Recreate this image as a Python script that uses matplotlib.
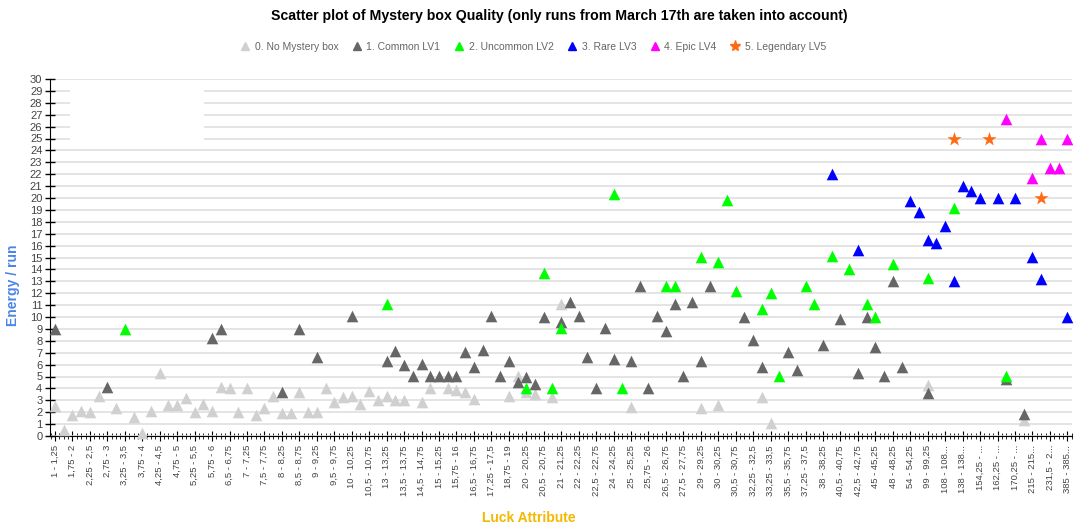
import matplotlib
matplotlib.use('Agg')
from matplotlib import pyplot as plt
from matplotlib.lines import Line2D
from matplotlib.patches import Rectangle
import numpy as np

plt.rcParams['font.family'] = ['Liberation Sans', 'DejaVu Sans']

title = 'Scatter plot of Mystery box Quality (only runs from March 17th are taken into account)'

# luck bins on the x axis, only every second one gets a label
n_bins = 117
tick_labels = [
    '1 - 1,25', '1,75 - 2', '2,25 - 2,5', '2,75 - 3', '3,25 - 3,5', '3,75 - 4',
    '4,25 - 4,5', '4,75 - 5', '5,25 - 5,5', '5,75 - 6', '6,5 - 6,75', '7 - 7,25',
    '7,5 - 7,75', '8 - 8,25', '8,5 - 8,75', '9 - 9,25', '9,5 - 9,75', '10 - 10,25',
    '10,5 - 10,75', '13 - 13,25', '13,5 - 13,75', '14,5 - 14,75', '15 - 15,25',
    '15,75 - 16', '16,5 - 16,75', '17,25 - 17,5', '18,75 - 19', '20 - 20,25',
    '20,5 - 20,75', '21 - 21,25', '22 - 22,25', '22,5 - 22,75', '24 - 24,25',
    '25 - 25,25', '25,75 - 26', '26,5 - 26,75', '27,5 - 27,75', '29 - 29,25',
    '30 - 30,25', '30,5 - 30,75', '32,25 - 32,5', '33,25 - 33,5', '35,5 - 35,75',
    '37,25 - 37,5', '38 - 38,25', '40,5 - 40,75', '42,5 - 42,75', '45 - 45,25',
    '48 - 48,25', '54 - 54,25', '99 - 99,25', '108 - 108...', '138 - 138...',
    '154,25 - ...', '162,25 - ...', '170,25 - ...', '215 - 215...', '231,5 - 2...',
    '385 - 385...',
]

# (bin number, energy per run) for every mystery box level
lv0_bins = [0, 1, 2, 3, 4, 5, 7, 9, 10, 11, 12, 13, 14, 15, 16, 17, 18, 19, 20, 21,
            22, 23, 24, 25, 26, 27, 28, 29, 30, 31, 32, 33, 34, 35, 36, 37, 38, 39,
            40, 42, 43, 45, 46, 47, 48, 52, 53, 54, 55, 57, 58, 66, 74, 76, 81, 82,
            100, 111]
lv0_vals = [2.5, 0.5, 1.76, 2.1, 2.04, 3.39, 2.38, 1.57, 0.28, 2.07, 5.27, 2.58, 2.63,
            3.19, 2.04, 2.66, 2.13, 4.15, 4.06, 1.99, 4.06, 1.79, 2.32, 3.39, 1.9, 1.96,
            3.73, 2.04, 2.04, 4.06, 2.89, 3.31, 3.35, 2.7, 3.78, 3.03, 3.39, 3.03, 3.03,
            2.86, 4.06, 4.06, 3.87, 3.73, 3.11, 3.39, 5.04, 3.73, 3.53, 3.25, 11.06,
            2.46, 2.32, 2.6, 3.25, 1.06, 4.29, 1.34]

lv1_bins = [0, 6, 18, 19, 26, 28, 30, 34, 38, 39, 40, 41, 42, 43, 44, 45, 46, 47, 48,
            49, 50, 51, 52, 53, 54, 55, 56, 58, 59, 60, 61, 62, 63, 64, 66, 67, 68, 69,
            70, 71, 72, 73, 74, 75, 79, 80, 81, 84, 85, 88, 90, 92, 93, 94, 95, 96, 97,
            100, 109, 111]
lv1_vals = [9.0, 4.09, 8.2, 9.0, 3.67, 9.0, 6.67, 10.08, 6.33, 7.17, 5.94, 5.04, 6.05,
            5.04, 5.04, 5.04, 5.04, 7.03, 5.77, 7.23, 10.08, 5.04, 6.3, 4.54, 4.93, 4.37,
            9.97, 9.55, 11.26, 10.08, 6.67, 4.06, 9.05, 6.47, 6.3, 12.63, 4.06, 10.08,
            8.85, 11.06, 5.04, 11.26, 6.3, 12.63, 10.03, 8.07, 5.83, 7.03, 5.55, 7.65,
            9.83, 5.32, 10.03, 7.5, 5.04, 13.05, 5.83, 3.64, 4.8, 1.85]

lv2_bins = [8, 38, 54, 56, 57, 58, 64, 65, 70, 71, 74, 76, 77, 78, 81, 82, 83, 86, 87,
            89, 91, 93, 94, 96, 100, 103, 109]
lv2_vals = [9.0, 11.06, 4.06, 13.73, 4.06, 9.05, 20.3, 4.06, 12.63, 12.63, 15.05, 14.65,
            19.83, 12.2, 10.7, 12.04, 5.04, 12.63, 11.06, 15.14, 14.03, 11.06, 10.03,
            14.45, 13.25, 19.2, 5.04]

lv3_bins = [89, 92, 98, 99, 100, 101, 102, 103, 104, 105, 106, 108, 110, 112, 113, 116]
lv3_vals = [22.0, 15.63, 19.75, 18.85, 16.47, 16.25, 17.65, 13.05, 21.0, 20.6, 20.0,
            20.0, 20.0, 15.03, 13.2, 10.03]

lv4_bins = [109, 112, 113, 114, 115, 116]
lv4_vals = [26.6, 21.7, 25.0, 22.55, 22.55, 25.0]

lv5_bins = [103, 107, 113]
lv5_vals = [25.0, 25.0, 20.0]

levels = [
    ('0. No Mystery box', lv0_bins, lv0_vals),
    ('1. Common LV1', lv1_bins, lv1_vals),
    ('2. Uncommon LV2', lv2_bins, lv2_vals),
    ('3. Rare LV3', lv3_bins, lv3_vals),
    ('4. Epic LV4', lv4_bins, lv4_vals),
    ('5. Legendary LV5', lv5_bins, lv5_vals),
]
colors = ['#d0d0d0', '#666666', '#00ff00', '#0000ff', '#ff00ff', '#ff6a13']
markers = ['^', '^', '^', '^', '^', '*']
sizes = [70, 70, 70, 70, 70, 115]

fig = plt.figure(figsize=(10.8, 5.32), dpi=100)
ax = fig.add_axes([50/1080, 96/532, 1022/1080, 357/532])

handles = []
for (name, bins, vals), c, m, s in zip(levels, colors, markers, sizes):
    ax.scatter(bins, vals, s=s, marker=m, color=c, linewidths=0, zorder=3, clip_on=False)
    handles.append(Line2D([], [], linestyle='none', marker=m, color=c,
                          markersize=6 if m == '^' else 8, label=name))

# empty patch in the grid at the top left (as in the original)
ax.add_patch(Rectangle((1.72, 24.55), 15.35, 4.85, facecolor='white', edgecolor='none', zorder=1))

ax.set_ylim(0, 30)
ax.set_xlim(-0.57, n_bins - 0.47)
ax.set_yticks(range(0, 31))
ax.set_xticks(np.arange(0, n_bins, 2))
ax.set_xticklabels(tick_labels, rotation=90, ha='center', va='top')
ax.set_xticks(np.setdiff1d(np.arange(-0.5, n_bins, 0.5), np.arange(0, n_bins, 2)), minor=True)
ax.tick_params(axis='y', direction='inout', length=7, width=1, labelsize=8,
               labelcolor='#444444', pad=2)
ax.tick_params(axis='x', which='major', direction='inout', length=7, width=0.8,
               labelsize=6.8, labelcolor='#444444', pad=3)
ax.tick_params(axis='x', which='minor', direction='inout', length=4, width=0.6)

ax.set_axisbelow(True)
ax.yaxis.grid(True, color='#dcdcdc', linewidth=1.1)
for side in ['top', 'right']:
    ax.spines[side].set_visible(False)
ax.spines['left'].set_color('black')
ax.spines['bottom'].set_color('black')

fig.text(559/1080, 1 - 16/532, title, ha='center', va='center', fontsize=10.2, fontweight='bold')
fig.text(13/1080, 1 - 285/532, 'Energy / run', rotation=90, ha='center', va='center',
         fontsize=10, fontweight='bold', color='#4a86e8')
fig.text(529/1080, 1 - 518/532, 'Luck Attribute', ha='center', va='center',
         fontsize=10, fontweight='bold', color='#f5b800')

fig.legend(handles=handles, loc='center', bbox_to_anchor=(0.494, 1 - 47/532), ncol=6,
           frameon=False, fontsize=7.5, handlelength=0.8, handletextpad=0.5,
           columnspacing=1.4, labelcolor='#666666')

fig.savefig('out.png', dpi=100)
